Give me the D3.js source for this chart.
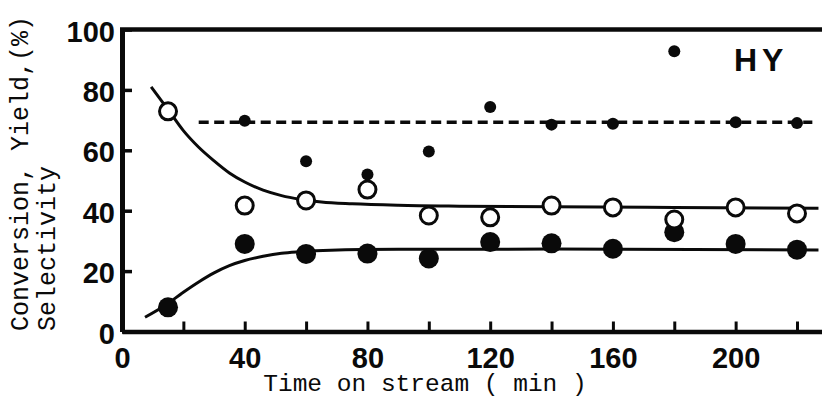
<!DOCTYPE html>
<html><head><meta charset="utf-8">
<script src="https://cdn.jsdelivr.net/npm/d3@7"></script>
<style>html,body{margin:0;padding:0;background:#fff}svg{display:block}</style>
</head><body><svg id="chart" width="822" height="410"></svg>
<script>
// ---- data ----
const timeMin      = [15, 40, 60, 80, 100, 120, 140, 160, 180, 200, 220];
const conversion   = [72.9, 41.7, 43.4, 47.0, 38.4, 37.8, 41.7, 41.1, 37.1, 41.1, 39.1];
const yieldPct     = [8.0, 29.0, 25.7, 25.8, 24.2, 29.6, 29.2, 27.4, 32.9, 29.0, 27.1];
const selectTime   = [40, 60, 80, 100, 120, 140, 160, 180, 200, 220];
const selectivity  = [69.8, 56.4, 52.0, 59.6, 74.3, 68.5, 68.8, 92.8, 69.3, 69.0];

const convFitTime  = [9.5, 15, 20, 25, 30, 35, 40, 46, 52, 58, 65, 75, 90, 110, 140, 180, 227];
const convFitValue = [81, 73.5, 66.5, 61, 56.5, 52.5, 49.5, 46.8, 45.0, 43.8, 42.9, 42.3, 41.8, 41.5, 41.3, 41.1, 40.8];
const yieldFitTime  = [7.5, 14, 20, 25, 30, 35, 40, 46, 52, 58, 68, 90, 140, 227];
const yieldFitValue = [4.7, 8.6, 13, 16.4, 19.4, 21.8, 23.5, 24.9, 25.9, 26.4, 26.9, 27.2, 27.3, 27.0];
const selMeanTime  = [25, 225];
const selMeanValue = [69.3, 69.3];

const xTickValues  = [20, 40, 60, 80, 100, 120, 140, 160, 180, 200, 220];
const xTickLabels  = [0, 40, 80, 120, 160, 200];
const yTickValues  = [0, 20, 40, 60, 80, 100];
const xTitle       = "Time on stream ( min )";
const yTitleLines  = ["Conversion, Yield,(%)", "Selectivity"];
const panelLabel   = "HY";

// ---- drawing ----
const svg = d3.select("#chart");
const ink = "#0a0a0a";
const x = d3.scaleLinear().domain([0, 230]).range([122, 122 + 230 * 675 / 220]);
const y = d3.scaleLinear().domain([0, 100]).range([331.5, 29.5]);
const numFont = "'Liberation Sans', Arial, sans-serif";
const monoFont = "'Liberation Mono', 'Courier New', monospace";

// top frame
svg.append("line").attr("x1", x(0) - 2).attr("x2", x(230)).attr("y1", y(100)).attr("y2", y(100))
  .attr("stroke", ink).attr("stroke-width", 4.5);

// x axis: inward ticks
const xAx = svg.append("g").attr("transform", `translate(0,${y(0)})`)
  .call(d3.axisBottom(x).tickValues(xTickValues).tickSizeInner(-10).tickSizeOuter(0).tickFormat(""));
xAx.select(".domain").attr("stroke", ink).attr("stroke-width", 4.5);
xAx.selectAll(".tick line").attr("stroke", ink).attr("stroke-width", 3);

// x labels
const xLab = svg.append("g").attr("transform", `translate(0,${y(0)})`)
  .call(d3.axisBottom(x).tickValues(xTickLabels).tickSize(0).tickFormat(d3.format("d")));
xLab.select(".domain").remove();
xLab.selectAll("text").attr("y", 36).attr("dy", 0)
  .attr("font-family", numFont).attr("font-weight", "bold").attr("font-size", 29).attr("fill", ink);

// y axis
const yAx = svg.append("g").attr("transform", `translate(${x(0)},0)`)
  .call(d3.axisLeft(y).tickValues(yTickValues).tickSizeInner(-10).tickSizeOuter(0).tickPadding(7).tickFormat(d3.format("d")));
yAx.select(".domain").attr("stroke", ink).attr("stroke-width", 5);
yAx.selectAll(".tick line").attr("stroke", ink).attr("stroke-width", 3.5);
yAx.selectAll("text").attr("dy", "0.4em")
  .attr("font-family", numFont).attr("font-weight", "bold").attr("font-size", 29).attr("fill", ink);

// titles
svg.append("text").attr("x", 425).attr("y", 391)
  .attr("text-anchor", "middle").attr("font-family", monoFont).attr("font-size", 24.5).attr("fill", ink)
  .text(xTitle);
const yTitleX = [28, 55];
yTitleLines.forEach((t, i) => {
  svg.append("text").attr("transform", `translate(${yTitleX[i]},331) rotate(-90)`)
    .attr("text-anchor", "start").attr("font-family", monoFont).attr("font-size", 25).attr("fill", ink)
    .text(t);
});

// panel label
svg.append("text").attr("x", 734).attr("y", 71)
  .attr("font-family", "'Liberation Sans Narrow', 'Arial Narrow', sans-serif").attr("font-weight", "bold")
  .attr("font-size", 32).attr("letter-spacing", 5).attr("fill", ink).text(panelLabel);

// fitted curves
const line = d3.line().x(d => x(d[0])).y(d => y(d[1])).curve(d3.curveMonotoneX);
svg.append("path").datum(d3.zip(convFitTime, convFitValue)).attr("d", line)
  .attr("fill", "none").attr("stroke", ink).attr("stroke-width", 3);
svg.append("path").datum(d3.zip(yieldFitTime, yieldFitValue)).attr("d", line)
  .attr("fill", "none").attr("stroke", ink).attr("stroke-width", 3);
svg.append("path").datum(d3.zip(selMeanTime, selMeanValue)).attr("d", d3.line().x(d => x(d[0])).y(d => y(d[1])))
  .attr("fill", "none").attr("stroke", ink).attr("stroke-width", 3.5).attr("stroke-dasharray", "10,5.5");

// markers
svg.append("g").selectAll("circle").data(d3.zip(timeMin, yieldPct)).join("circle")
  .attr("cx", d => x(d[0])).attr("cy", d => y(d[1])).attr("r", 10).attr("fill", ink);
svg.append("g").selectAll("circle").data(d3.zip(selectTime, selectivity)).join("circle")
  .attr("cx", d => x(d[0])).attr("cy", d => y(d[1])).attr("r", 6).attr("fill", ink);
svg.append("g").selectAll("circle").data(d3.zip(timeMin, conversion)).join("circle")
  .attr("cx", d => x(d[0])).attr("cy", d => y(d[1])).attr("r", 8.5)
  .attr("fill", "#fff").attr("stroke", ink).attr("stroke-width", 3);
</script></body></html>
